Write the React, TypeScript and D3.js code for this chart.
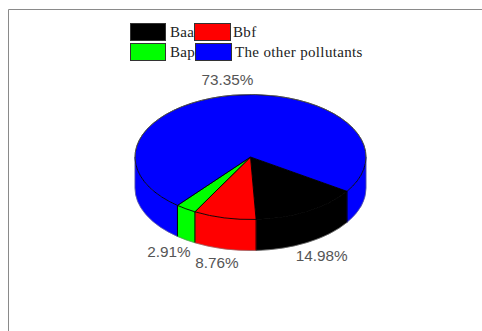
import React from "react";
import * as d3 from "d3";

const categories = ["Baa", "Bbf", "Bap", "The other pollutants"];
const shares = [14.98, 8.76, 2.91, 73.35];
const colors = ["#000000", "#ff0000", "#00ff00", "#0000ff"];
const labelOffsets: [number, number][] = [[14, 50], [-7.5, 50.5], [-17, 48], [-5.5, -10]];
const legendSlots = [
  { x: 130, y: 23, w: 35, tx: 170 },
  { x: 194, y: 23, w: 36, tx: 233 },
  { x: 130, y: 43, w: 35, tx: 170 },
  { x: 195, y: 43, w: 36, tx: 235 },
];

const WIDTH = 482;
const HEIGHT = 331;
const CX = 250.5;
const CY = 157;
const RX = 115.5;
const RY = 62.5;
const DEPTH = 31;
const START = (123.3 * Math.PI) / 180;

// d3.pie measures clockwise from 12 o'clock; project those angles onto the tilted ellipse.
const px = (a: number) => CX + RX * Math.sin(a);
const py = (a: number, drop = 0) => CY - RY * Math.cos(a) + drop;

const slices = d3
  .pie<number>()
  .sort(null)
  .startAngle(START)
  .endAngle(START + 2 * Math.PI)(shares);

function topPath(a0: number, a1: number) {
  const large = a1 - a0 > Math.PI ? 1 : 0;
  return `M${CX},${CY}L${px(a0)},${py(a0)}A${RX},${RY} 0 ${large} 1 ${px(a1)},${py(a1)}Z`;
}

// Front wall of the disc between two angles; only the lower half of the ellipse shows.
function wallPath(a0: number, a1: number) {
  return (
    `M${px(a0)},${py(a0)}A${RX},${RY} 0 0 1 ${px(a1)},${py(a1)}` +
    `L${px(a1)},${py(a1, DEPTH)}A${RX},${RY} 0 0 0 ${px(a0)},${py(a0, DEPTH)}Z`
  );
}

function frontSpans(a0: number, a1: number): [number, number][] {
  const lo = Math.PI / 2;
  const hi = (3 * Math.PI) / 2;
  const spans: [number, number][] = [];
  for (const k of [0, 2 * Math.PI]) {
    const s = Math.max(a0, lo + k);
    const e = Math.min(a1, hi + k);
    if (e > s) spans.push([s, e]);
  }
  return spans;
}

const silhouette =
  `M${CX - RX},${CY}A${RX},${RY} 0 0 1 ${CX + RX},${CY}L${CX + RX},${CY + DEPTH}` +
  `A${RX},${RY} 0 0 1 ${CX - RX},${CY + DEPTH}Z`;

export default function App() {
  return (
    <svg
      width={WIDTH}
      height={HEIGHT}
      style={{ position: "absolute", left: 0, top: 0, background: "#fff" }}
    >
      <path d={`M8.5,${HEIGHT}V9.5H${WIDTH}`} fill="none" stroke="#8a8a8a" strokeWidth={1} />

      {slices.map((s, i) =>
        frontSpans(s.startAngle, s.endAngle).map(([a, b], j) => (
          <path key={`w${i}-${j}`} d={wallPath(a, b)} fill={colors[i]} stroke={colors[i]} strokeWidth={0.5} />
        ))
      )}
      {/* Vertical seams between neighbouring wall segments */}
      {slices.map((s, i) => {
        const a = s.startAngle % (2 * Math.PI);
        return Math.abs(a - Math.PI) < Math.PI / 2 ? (
          <line key={`v${i}`} x1={px(a)} x2={px(a)} y1={py(a)} y2={py(a, DEPTH)} stroke="#000" strokeWidth={1} />
        ) : null;
      })}
      {slices.map((s, i) => (
        <path key={`t${i}`} d={topPath(s.startAngle, s.endAngle)} fill={colors[i]} stroke="#000" strokeWidth={0.9} />
      ))}
      <path d={silhouette} fill="none" stroke="#777" strokeWidth={0.6} />

      <g fontFamily="'Liberation Sans', Arial, sans-serif" fontSize={15.3} fill="#555">
        {slices.map((s, i) => {
          const mid = (s.startAngle + s.endAngle) / 2;
          return (
            <text
              key={`l${i}`}
              x={px(mid) + labelOffsets[i][0]}
              y={py(mid) + labelOffsets[i][1]}
              textAnchor="middle"
            >
              {`${shares[i].toFixed(2)}%`}
            </text>
          );
        })}
      </g>

      <g fontFamily="'Liberation Serif', 'Times New Roman', serif" fontSize={15} fill="#222">
        {categories.map((c, i) => {
          const slot = legendSlots[i];
          return (
            <g key={c}>
              <rect x={slot.x + 0.5} y={slot.y + 0.5} width={slot.w} height={17} fill={colors[i]} stroke="#333" />
              <text x={slot.tx} y={slot.y + 14} letterSpacing={0.35}>{c}</text>
            </g>
          );
        })}
      </g>
    </svg>
  );
}
